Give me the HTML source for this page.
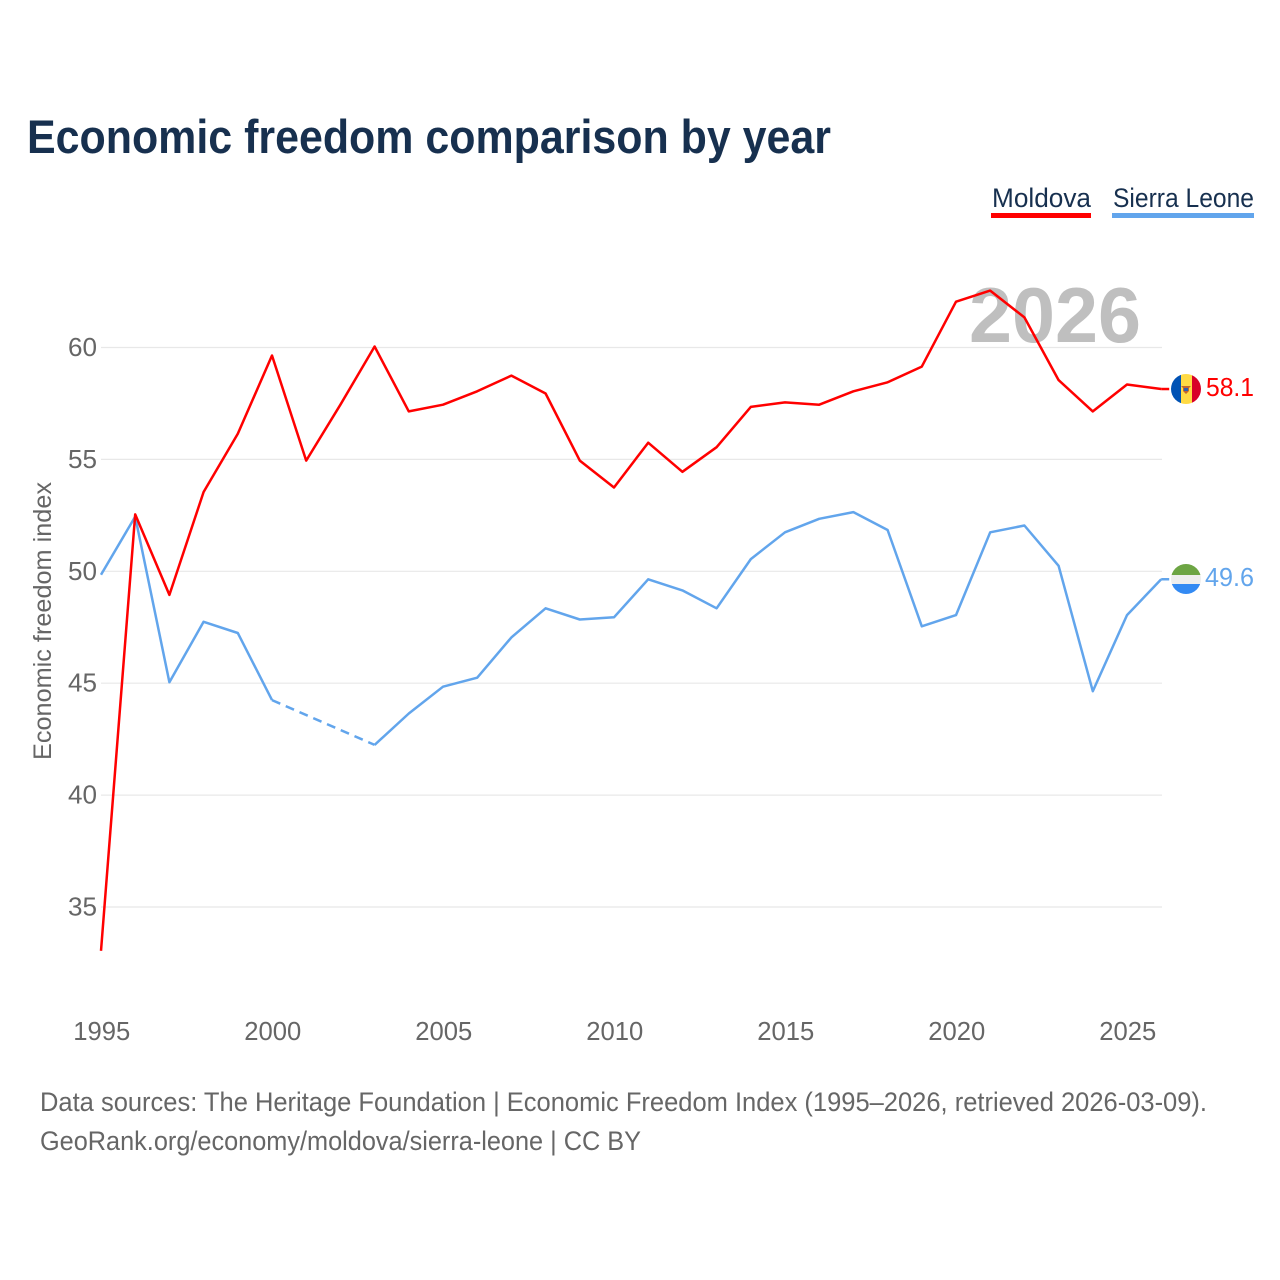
<!DOCTYPE html>
<html lang="en">
<head>
<meta charset="utf-8">
<title>Economic freedom comparison by year</title>
<style>
html,body{margin:0;padding:0;background:#fff;}
svg{display:block;font-family:"Liberation Sans",Arial,sans-serif;}
</style>
</head>
<body>
<svg id="chart" xmlns="http://www.w3.org/2000/svg" width="1280" height="1280" viewBox="0 0 1280 1280">
  <rect x="0" y="0" width="1280" height="1280" fill="#ffffff"/>
  <text x="27" y="153" font-size="47" font-weight="700" fill="#17304f" textLength="804" lengthAdjust="spacingAndGlyphs">Economic freedom comparison by year</text>

  <g>
    <g>
      <text x="992" y="207" font-size="27" fill="#17304f" textLength="99" lengthAdjust="spacingAndGlyphs">Moldova</text>
      <rect x="991" y="213" width="100" height="5" fill="#ff0000"/>
    </g>
    <g>
      <text x="1113" y="207" font-size="27" fill="#17304f" textLength="141" lengthAdjust="spacingAndGlyphs">Sierra Leone</text>
      <rect x="1112" y="213" width="142" height="5" fill="#62a5ec"/>
    </g>
  </g>

  <g id="grid"></g>
  <text x="969" y="342" font-size="78" font-weight="700" fill="#bfbfbf" textLength="172" lengthAdjust="spacingAndGlyphs">2026</text>
  <g id="y-ticks"></g>
  <g id="x-ticks"></g>
  <text transform="translate(51,621) rotate(-90)" text-anchor="middle" font-size="25" fill="#666666" textLength="278" lengthAdjust="spacingAndGlyphs">Economic freedom index</text>

  <defs>
    <clipPath id="flag-clip-md"><circle id="clip-md" cx="1186" cy="389" r="15"/></clipPath>
    <clipPath id="flag-clip-sl"><circle id="clip-sl" cx="1186" cy="579" r="15"/></clipPath>
  </defs>

  <g id="series"></g>

  <g clip-path="url(#flag-clip-md)">
    <rect x="1171" y="374" width="10" height="30" fill="#0052b4"/>
    <rect x="1181" y="374" width="11" height="30" fill="#ffda44"/>
    <rect x="1192" y="374" width="9" height="30" fill="#d80027"/>
    <path d="M1181 386h10l-2 2v3l-3 3-3-3v-3z" fill="#c2662e"/>
    <rect x="1184" y="388" width="4" height="3" fill="#2e5fb0"/>
  </g>
  <text x="1206" y="396" font-size="26" fill="#ff0000" textLength="48" lengthAdjust="spacingAndGlyphs">58.1</text>

  <g clip-path="url(#flag-clip-sl)">
    <rect x="1171" y="564" width="30" height="11" fill="#6da544"/>
    <rect x="1171" y="575" width="30" height="9" fill="#eeeeee"/>
    <rect x="1171" y="584" width="30" height="10" fill="#338af3"/>
  </g>
  <text x="1205" y="586" font-size="26" fill="#62a5ec" textLength="49" lengthAdjust="spacingAndGlyphs">49.6</text>

  <text x="40" y="1111" font-size="27" fill="#666666" textLength="1167" lengthAdjust="spacingAndGlyphs">Data sources: The Heritage Foundation | Economic Freedom Index (1995–2026, retrieved 2026-03-09).</text>
  <text x="40" y="1150" font-size="27" fill="#666666" textLength="601" lengthAdjust="spacingAndGlyphs">GeoRank.org/economy/moldova/sierra-leone | CC BY</text>
</svg>

<script>
const years = [1995,1996,1997,1998,1999,2000,2001,2002,2003,2004,2005,2006,2007,2008,2009,2010,2011,2012,2013,2014,2015,2016,2017,2018,2019,2020,2021,2022,2023,2024,2025,2026];
const moldova = [33.0,52.5,48.9,53.5,56.1,59.6,54.9,57.4,60.0,57.1,57.4,58.0,58.7,57.9,54.9,53.7,55.7,54.4,55.5,57.3,57.5,57.4,58.0,58.4,59.1,62.0,62.5,61.3,58.5,57.1,58.3,58.1];
const sierraLeone = [49.8,52.4,45.0,47.7,47.2,44.2,null,null,42.2,43.6,44.8,45.2,47.0,48.3,47.8,47.9,49.6,49.1,48.3,50.5,51.7,52.3,52.6,51.8,47.5,48.0,51.7,52.0,50.2,44.6,48.0,49.6];
const yTicks = [35,40,45,50,55,60];
const xTicks = [1995,2000,2005,2010,2015,2020,2025];

const NS = 'http://www.w3.org/2000/svg';
function xScale(year){ return 101 + (year - 1995) * 34.2; }
function yScale(v){ return 346.5 + (60 - v) * 22.38; }
function make(tag, attrs, parent){
  const el = document.createElementNS(NS, tag);
  for (const k in attrs) el.setAttribute(k, attrs[k]);
  parent.appendChild(el);
  return el;
}

const grid = document.getElementById('grid');
const yTickGroup = document.getElementById('y-ticks');
const xTickGroup = document.getElementById('x-ticks');
const seriesGroup = document.getElementById('series');

yTicks.forEach(function(t){
  const line = make('line', {x1:101, x2:1162, y1:yScale(t)+1, y2:yScale(t)+1, stroke:'#e8e8e8', 'stroke-width':1.2}, grid);
  
  
  const label = make('text', {x:97, y:yScale(t)+9.5, 'text-anchor':'end', 'font-size':26, fill:'#666666', textLength:29, lengthAdjust:'spacingAndGlyphs'}, yTickGroup);
  label.textContent = t;
  
  
});

xTicks.forEach(function(t){
  const label = make('text', {x:xScale(t)+0.8, y:1040, 'text-anchor':'middle', 'font-size':26, fill:'#666666', textLength:57, lengthAdjust:'spacingAndGlyphs'}, xTickGroup);
  label.textContent = t;
  
  
});

function drawSeries(values, color, key){
  let prev = -1;
  let solid = '';
  let run = false;
  values.forEach(function(v, i){
    if (v === null) { run = false; return; }
    const p = xScale(years[i]).toFixed(1) + ' ' + yScale(v).toFixed(1);
    solid += (run ? 'L' : 'M') + p;
    if (prev >= 0 && i - prev > 1) {
      const gap = make('line', {x1:xScale(years[prev]), y1:yScale(values[prev]), x2:xScale(years[i]), y2:yScale(v), stroke:color, 'stroke-width':2.5, 'stroke-dasharray':'9 6'}, seriesGroup);
      
      
    }
    run = true;
    prev = i;
  });
  const last = values[values.length - 1];
  const lastYear = years[years.length - 1];
  const connector = make('line', {x1:xScale(lastYear), y1:yScale(last), x2:xScale(lastYear)+8, y2:yScale(last), stroke:color, 'stroke-width':2.5}, seriesGroup);
  
  
  const path = make('path', {d:solid, fill:'none', stroke:color, 'stroke-width':2.5, 'stroke-linejoin':'round'}, seriesGroup);
  
  
}

drawSeries(sierraLeone, '#62a5ec', 'sierra-leone');
drawSeries(moldova, '#ff0000', 'moldova');
</script>
</body>
</html>
